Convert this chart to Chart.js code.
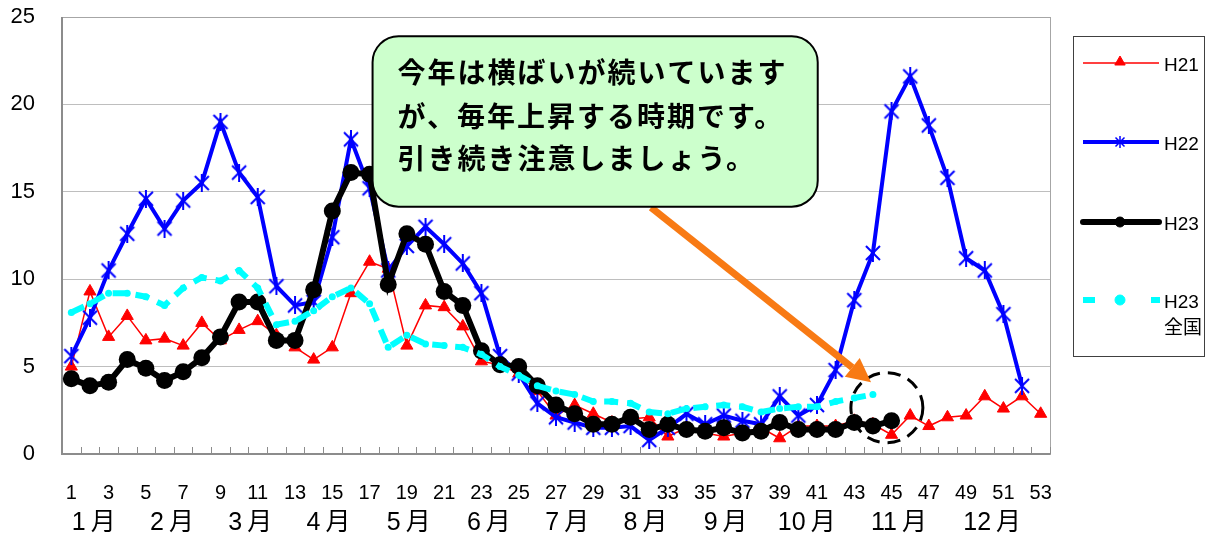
<!DOCTYPE html>
<html>
<head>
<meta charset="utf-8">
<script src="https://cdn.jsdelivr.net/npm/chart.js@4"></script>
<style>
  html, body { margin: 0; padding: 0; background: #fff; }
  #wrap { width: 1209px; height: 535px; position: relative; }
</style>
</head>
<body>
<div id="wrap"><canvas id="chart"></canvas></div>
<script>
// ===== data =====
const weeks = [1, 2, 3, 4, 5, 6, 7, 8, 9, 10, 11, 12, 13, 14, 15, 16, 17, 18, 19, 20,
  21, 22, 23, 24, 25, 26, 27, 28, 29, 30, 31, 32, 33, 34, 35, 36, 37, 38, 39, 40,
  41, 42, 43, 44, 45, 46, 47, 48, 49, 50, 51, 52, 53];

const h21 = [5.0, 9.3, 6.7, 7.9, 6.5, 6.6, 6.2, 7.5, 6.5, 7.1, 7.6, 6.8, 6.1, 5.4, 6.1, 9.2, 11.0, 10.6, 6.2, 8.5,
  8.4, 7.3, 5.3, 5.1, 4.6, 3.6, 2.2, 2.8, 2.3, 1.8, 2.0, 2.1, 1.0, 1.5, 1.2, 1.0, 1.2, 1.5, 0.9, 1.6,
  1.6, 1.6, 1.9, 1.7, 1.1, 2.2, 1.6, 2.1, 2.2, 3.3, 2.6, 3.3, 2.3];

const h22 = [5.6, 7.8, 10.5, 12.6, 14.6, 12.9, 14.5, 15.5, 19.0, 16.1, 14.7, 9.6, 8.5, 8.7, 12.4, 18.0, 15.2, 10.5, 11.9, 13.0,
  12.0, 10.9, 9.2, 5.6, 4.6, 2.9, 2.1, 1.8, 1.5, 1.5, 1.6, 0.8, 1.5, 2.3, 1.7, 2.2, 1.9, 1.7, 3.3, 2.2,
  2.8, 4.8, 8.8, 11.5, 19.6, 21.6, 18.8, 15.8, 11.2, 10.5, 8.0, 3.9, null];

const h23 = [4.3, 3.9, 4.1, 5.4, 4.9, 4.2, 4.7, 5.5, 6.7, 8.7, 8.7, 6.5, 6.5, 9.4, 13.9, 16.1, 16.0, 9.7, 12.6, 12.0,
  9.3, 8.5, 5.9, 5.1, 5.0, 3.9, 2.8, 2.3, 1.7, 1.7, 2.1, 1.4, 1.7, 1.4, 1.3, 1.5, 1.2, 1.3, 1.8, 1.4,
  1.4, 1.4, 1.8, 1.6, 1.9, null, null, null, null, null, null, null, null];

const h23zenkoku = [8.1, 8.6, 9.2, 9.2, 9.0, 8.5, 9.5, 10.1, 9.9, 10.5, 9.5, 7.4, 7.6, 8.2, 9.0, 9.5, 8.6, 6.1, 6.8, 6.3,
  6.2, 6.1, 5.7, 5.0, 4.5, 3.9, 3.6, 3.4, 3.0, 3.0, 2.9, 2.4, 2.3, 2.6, 2.7, 2.8, 2.7, 2.4, 2.6, 2.7,
  2.7, 3.0, 3.2, 3.4, null, null, null, null, null, null, null, null, null];

const seriesNames = ["H21", "H22", "H23", "H23 全国"];
const yTicks = [0, 5, 10, 15, 20, 25];
const monthLabels = ["1月", "2月", "3月", "4月", "5月", "6月", "7月", "8月", "9月", "10月", "11月", "12月"];
const noteLines = ["今年は横ばいが続いています", "が、毎年上昇する時期です。", "引き続き注意しましょう。"];

// ===== star marker (X + vertical bar) =====
function makeStar(size, lw) {
  const c = document.createElement("canvas");
  c.width = size; c.height = size;
  const g = c.getContext("2d");
  const m = lw, e = size - lw;
  g.strokeStyle = "#0000FF";
  g.lineWidth = lw;
  g.beginPath();
  g.moveTo(m, m); g.lineTo(e, e);
  g.moveTo(e, m); g.lineTo(m, e);
  g.moveTo(size / 2, 0); g.lineTo(size / 2, size);
  g.stroke();
  return c;
}
const starBig = makeStar(18, 2);
const starSmall = makeStar(12, 1.5);

// ===== plot frame + inside ticks =====
const framePlugin = {
  id: "frame",
  beforeDatasetsDraw(chart) {
    const { ctx, chartArea: a, scales: { x } } = chart;
    ctx.save();
    ctx.strokeStyle = "#A6A6A6";
    ctx.lineWidth = 1;
    ctx.strokeRect(a.left + 0.5, a.top + 0.5, a.right - a.left, a.bottom - a.top);
    ctx.strokeStyle = "#8C8C8C";
    ctx.beginPath();
    for (let i = 0; i <= weeks.length; i++) {
      const px = Math.round(x.getPixelForValue(i - 0.5)) + 0.5;
      ctx.moveTo(px, a.bottom);
      ctx.lineTo(px, a.bottom - 7);
    }
    ctx.stroke();
    ctx.lineWidth = 2;
    ctx.beginPath();
    ctx.moveTo(a.left, a.top);
    ctx.lineTo(a.left, a.bottom);
    ctx.lineTo(a.right, a.bottom);
    ctx.stroke();
    ctx.restore();
  },
};

// ===== month row, legend, callout =====
const monthCenters = [2.2, 6.4, 10.6, 14.8, 19.1, 23.4, 27.6, 31.8, 36.1, 40.45, 45.4, 50.4];

const extrasPlugin = {
  id: "extras",
  afterDraw(chart) {
    const { ctx, scales: { x, y } } = chart;
    ctx.save();

    // month labels: number + gap + 月
    ctx.fillStyle = "#000";
    ctx.font = '25px "Liberation Sans", "Noto Sans CJK JP"';
    ctx.textAlign = "left";
    ctx.textBaseline = "middle";
    const gap = 5;
    monthLabels.forEach((m, i) => {
      const num = m.slice(0, -1), kan = m.slice(-1);
      const wn = ctx.measureText(num).width, wk = ctx.measureText(kan).width;
      const cx = x.getPixelForValue(monthCenters[i] - 1);
      const sx = cx - (wn + gap + wk) / 2;
      ctx.fillText(num, sx, 523);
      ctx.fillText(kan, sx + wn + gap, 523);
    });

    // legend box
    ctx.strokeStyle = "#404040";
    ctx.lineWidth = 1;
    ctx.strokeRect(1073.5, 36.5, 131, 320);
    const rows = [63, 142, 222, 300];
    chart.data.datasets.forEach((ds, i) => {
      const ly = rows[i];
      ctx.strokeStyle = ds.borderColor;
      ctx.fillStyle = ds.borderColor;
      ctx.lineWidth = ds.borderWidth;
      ctx.lineCap = i === 2 ? "round" : "butt";
      if (ds.borderDash) {
        ctx.fillRect(1083, ly - 3, 12, 6);
        ctx.fillRect(1151, ly - 3, 9, 6);
      } else {
        ctx.beginPath();
        ctx.moveTo(1083, ly);
        ctx.lineTo(1159, ly);
        ctx.stroke();
      }
      if (ds.pointStyle instanceof HTMLCanvasElement) {
        ctx.drawImage(starSmall, 1120 - 6, ly - 6);
      } else {
        ctx.lineWidth = 1;
        Chart.helpers.drawPoint(ctx, {
          pointStyle: ds.pointStyle, radius: i === 0 ? 6 : 5, rotation: 0, borderWidth: 1,
        }, 1120, ly - (i === 0 ? 1 : 0));
      }
      ctx.fillStyle = "#000";
      ctx.textAlign = "left";
      ctx.textBaseline = "middle";
      ctx.font = '19px "Liberation Sans", "Noto Sans CJK JP"';
      const parts = ds.label.split(" ");
      parts.forEach((p, k) => ctx.fillText(p, 1164, ly + 3 + k * 26));
    });

    // dashed circle
    ctx.strokeStyle = "#000";
    ctx.lineWidth = 3;
    ctx.setLineDash([13, 8]);
    ctx.beginPath();
    ctx.ellipse(x.getPixelForValue(43.75), y.getPixelForValue(2.65), 36, 35, 0, 0, Math.PI * 2);
    ctx.stroke();
    ctx.setLineDash([]);

    // orange arrow
    const x0 = x.getPixelForValue(31.1), y0 = y.getPixelForValue(14.1);
    const x1 = x.getPixelForValue(42.9), y1 = y.getPixelForValue(4.1);
    const ang = Math.atan2(y1 - y0, x1 - x0);
    const head = 24, half = 12;
    const bx = x1 - head * Math.cos(ang), by = y1 - head * Math.sin(ang);
    ctx.strokeStyle = "#F87A14";
    ctx.fillStyle = "#F87A14";
    ctx.lineWidth = 7;
    ctx.beginPath();
    ctx.moveTo(x0, y0);
    ctx.lineTo(bx, by);
    ctx.stroke();
    ctx.beginPath();
    ctx.moveTo(x1, y1);
    ctx.lineTo(bx + half * Math.sin(ang), by - half * Math.cos(ang));
    ctx.lineTo(bx - half * Math.sin(ang), by + half * Math.cos(ang));
    ctx.closePath();
    ctx.fill();

    // callout box
    const l = x.getPixelForValue(16.16), r = x.getPixelForValue(40.04);
    const t = y.getPixelForValue(23.9), b = y.getPixelForValue(14.15);
    const rad = 26;
    ctx.beginPath();
    ctx.moveTo(l + rad, t);
    ctx.arcTo(r, t, r, b, rad);
    ctx.arcTo(r, b, l, b, rad);
    ctx.arcTo(l, b, l, t, rad);
    ctx.arcTo(l, t, r, t, rad);
    ctx.closePath();
    ctx.fillStyle = "#CCFFCC";
    ctx.fill();
    ctx.strokeStyle = "#000";
    ctx.lineWidth = 2;
    ctx.stroke();

    ctx.fillStyle = "#000";
    ctx.textAlign = "left";
    ctx.textBaseline = "middle";
    ctx.font = 'bold 28px "Noto Sans CJK JP"';
    if ("letterSpacing" in ctx) ctx.letterSpacing = "2px";
    const lineY = [36, 80, 122];
    noteLines.forEach((s, i) => ctx.fillText(s, l + 25, t + lineY[i]));
    ctx.restore();
  },
};

// ===== chart =====
const ctx = document.getElementById("chart");
new Chart(ctx, {
  type: "line",
  data: {
    labels: weeks,
    datasets: [
      {
        label: seriesNames[0], data: h21, order: 4,
        borderColor: "#FF0000", backgroundColor: "#FF0000", borderWidth: 1.5,
        pointStyle: "triangle", pointRadius: 7, pointBorderWidth: 1,
      },
      {
        label: seriesNames[1], data: h22, order: 3,
        borderColor: "#0000FF", backgroundColor: "#0000FF", borderWidth: 4,
        pointStyle: starBig,
      },
      {
        label: seriesNames[2], data: h23, order: 2,
        borderColor: "#000000", backgroundColor: "#000000", borderWidth: 6,
        pointStyle: "circle", pointRadius: 8.5, pointBorderWidth: 0,
      },
      {
        label: seriesNames[3], data: h23zenkoku, order: 1,
        borderColor: "#00FFFF", backgroundColor: "#00FFFF", borderWidth: 6,
        borderDash: [14, 9], pointStyle: "circle", pointRadius: 3.5, pointBorderWidth: 0,
      },
    ],
  },
  options: {
    responsive: true,
    maintainAspectRatio: false,
    animation: false,
    devicePixelRatio: 1,
    layout: { padding: { top: 17, right: 159, left: 0, bottom: 0 } },
    elements: { line: { tension: 0 } },
    plugins: { legend: { display: false }, tooltip: { enabled: false } },
    scales: {
      x: {
        offset: true,
        grid: { display: false, drawTicks: false },
        border: { display: false },
        ticks: {
          autoSkip: false, maxRotation: 0, padding: 27, color: "#000",
          font: { family: "Liberation Sans", size: 20 },
          callback: (v, i) => (i % 2 === 0 ? weeks[i] : ""),
        },
        afterFit: (s) => { s.height = 81; },
      },
      y: {
        min: 0, max: 25,
        afterBuildTicks: (s) => { s.ticks = yTicks.map((v) => ({ value: v })); },
        grid: { color: "#BEBEBE", lineWidth: 1, drawTicks: false },
        border: { display: false },
        ticks: {
          padding: 27, color: "#000",
          font: { family: "Liberation Sans", size: 22 },
        },
        afterFit: (s) => { s.width = 62; s.paddingTop = 0; s.paddingBottom = 0; },
      },
    },
  },
  plugins: [framePlugin, extrasPlugin],
});
</script>
</body>
</html>
